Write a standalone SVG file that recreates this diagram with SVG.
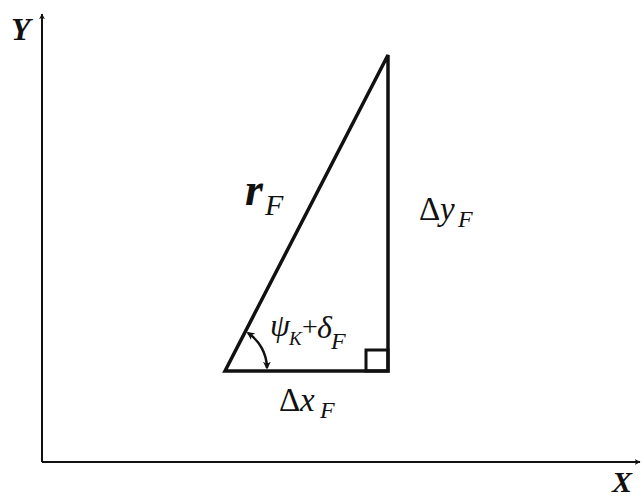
<svg xmlns="http://www.w3.org/2000/svg" width="643" height="497" viewBox="0 0 643 497">
<style>
.ax{stroke:#111;stroke-width:2;fill:none}
.tri{stroke:#111;stroke-width:3.5;fill:none;stroke-linejoin:miter}
.t{font-family:"Liberation Serif","DejaVu Serif",serif;fill:#111}
.i{font-style:italic}
</style>
<defs>
<marker id="ah" viewBox="0 0 10 10" refX="9" refY="5" markerWidth="6" markerHeight="6" orient="auto-start-reverse" markerUnits="userSpaceOnUse">
<path d="M0,0 L10,5 L0,10 L3,5 Z" fill="#111"/>
</marker>
<marker id="sa" viewBox="0 0 10 10" refX="8" refY="5" markerWidth="8" markerHeight="8" orient="auto-start-reverse" markerUnits="userSpaceOnUse">
<path d="M0,0 L10,5 L0,10 L3,5 Z" fill="#111"/>
</marker>
</defs>
<rect width="643" height="497" fill="#fff"/>
<g id="axes">
<line class="ax" x1="42" y1="462" x2="42" y2="14" marker-end="url(#ah)"/>
<line class="ax" x1="42" y1="462" x2="640" y2="462" marker-end="url(#ah)"/>
</g>
<g id="triangle">
<path class="tri" d="M225,371 L388,55 L388,371 Z"/>
<rect x="366" y="350" width="22" height="21" style="stroke:#111;stroke-width:3;fill:none"/>
</g>
<g id="connectors">
<path d="M248,333 A43,43 0 0 1 267,368" style="stroke:#111;stroke-width:2.5;fill:none" marker-start="url(#sa)" marker-end="url(#sa)"/>
</g>
<g id="labels">
<text class="t i" x="11" y="40" font-size="32" font-weight="bold">Y</text>
<text class="t i" x="612" y="492" font-size="30" font-weight="bold">X</text>
<text class="t i" font-weight="bold"><tspan x="245" y="205" font-size="46">r</tspan><tspan x="265" y="215" font-size="30" font-weight="normal">F</tspan></text>
<text class="t"><tspan x="419" y="220" font-size="33">Δ</tspan><tspan class="i" x="440" y="220" font-size="33">y</tspan><tspan class="i" x="458" y="227" font-size="24">F</tspan></text>
<text class="t"><tspan class="i" x="270" y="336" font-size="32">ψ</tspan><tspan class="i" x="289" y="345" font-size="19">K</tspan><tspan x="302" y="336" font-size="28">+</tspan><tspan class="i" x="317" y="338" font-size="32">δ</tspan><tspan class="i" x="331" y="349" font-size="24">F</tspan></text>
<text class="t"><tspan x="279" y="411" font-size="33">Δ</tspan><tspan class="i" x="300" y="411" font-size="33">x</tspan><tspan class="i" x="320" y="418" font-size="24">F</tspan></text>
</g>
</svg>
